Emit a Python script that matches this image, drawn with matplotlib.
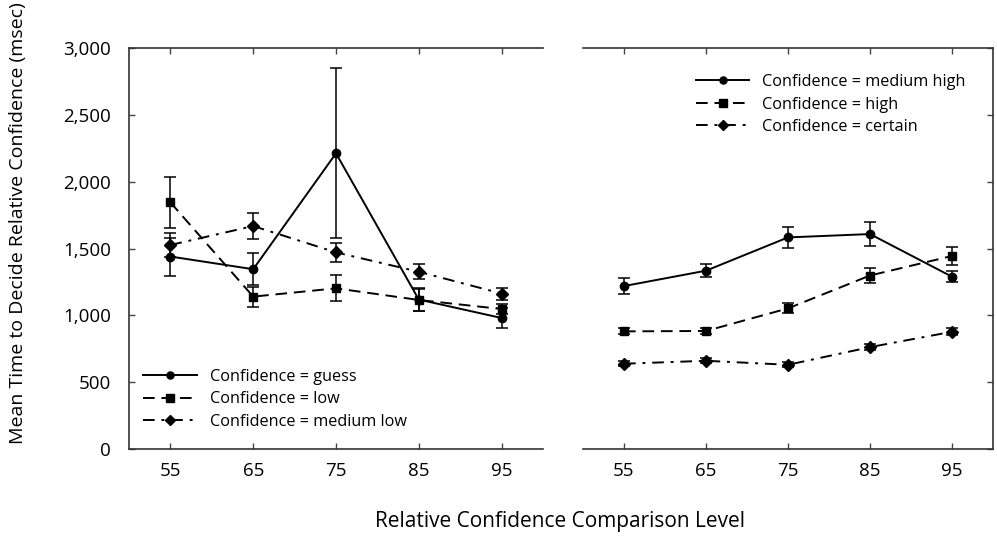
import numpy as np
import matplotlib
matplotlib.use('Agg')
import matplotlib.pyplot as plt
from matplotlib.ticker import FuncFormatter

#________________Data___________________
levels = [55, 65, 75, 85, 95]

# painel esquerdo
guess = [1440, 1345, 2212, 1118, 980]
guess_err = [142, 120, 635, 85, 72]
low = [1845, 1140, 1202, 1115, 1047]
low_err = [193, 75, 98, 80, 35]
med_low = [1526, 1668, 1471, 1326, 1163]
med_low_err = [87, 97, 73, 56, 45]

# painel direito
med_high = [1219, 1334, 1583, 1608, 1289]
med_high_err = [58, 50, 78, 88, 40]
high = [880, 883, 1052, 1298, 1444]
high_err = [22, 20, 38, 58, 68]
certain = [638, 660, 630, 762, 877]
certain_err = [18, 18, 18, 25, 25]

labels_left = ['Confidence = guess', 'Confidence = low', 'Confidence = medium low']
labels_right = ['Confidence = medium high', 'Confidence = high', 'Confidence = certain']
yticks = [0, 500, 1000, 1500, 2000, 2500, 3000]

plt.rcParams['font.family'] = ['Open Sans', 'DejaVu Sans']

fig = plt.figure(figsize=(9.97, 5.37), dpi=100)
ax1 = fig.add_axes([129 / 997, 1 - 449 / 537, 414 / 997, 401 / 537])
ax2 = fig.add_axes([583 / 997, 1 - 449 / 537, 410 / 997, 401 / 537])

estilo = dict(color='black', lw=1.4, capsize=4, elinewidth=1.1, capthick=1.1, ms=6)


def desenha(ax, dados):
    linhas = []
    for y, err, ls, mk in dados:
        eb = ax.errorbar(levels, y, yerr=err, marker=mk, **estilo)
        line = eb.lines[0]
        if ls == 'dashed':
            line.set_dashes((6, 3.5))
        elif ls == 'dashdot':
            line.set_dashes((6, 3.5, 1.5, 3.5))
        else:
            line.set_linestyle('-')
        linhas.append(line)
    ax.set_xlim(50, 100)
    ax.set_ylim(0, 3000)
    ax.set_xticks(levels)
    ax.set_yticks(yticks)
    ax.tick_params(direction='in', length=4, width=1, labelsize=13.5, color='#444444')
    for s in ax.spines.values():
        s.set_linewidth(1.2)
        s.set_color('#333333')
    return linhas


l1 = desenha(ax1, [(guess, guess_err, 'solid', 'o'),
                   (low, low_err, 'dashed', 's'),
                   (med_low, med_low_err, 'dashdot', 'D')])
l2 = desenha(ax2, [(med_high, med_high_err, 'solid', 'o'),
                   (high, high_err, 'dashed', 's'),
                   (certain, certain_err, 'dashdot', 'D')])

# eixo esquerdo
ax1.spines['right'].set_visible(False)
ax1.tick_params(top=True, right=False)
ax1.yaxis.set_major_formatter(FuncFormatter(lambda v, p: f'{int(v):,}'))
ax1.tick_params(axis='x', pad=9)
ax1.tick_params(axis='y', pad=13)

# eixo direito
ax2.spines['left'].set_visible(False)
ax2.tick_params(top=True, left=False, right=True, labelleft=False)
ax2.tick_params(axis='x', pad=9)

leg_kw = dict(frameon=False, fontsize=11.7, numpoints=1, handlelength=3.3,
              handletextpad=0.8, labelspacing=0.4, borderpad=0, borderaxespad=0,
              loc='upper left', markerscale=0.85)
ax1.legend(l1, labels_left, bbox_to_anchor=(0.035, 0.2), **leg_kw)
ax2.legend(l2, labels_right, bbox_to_anchor=(0.275, 0.935), **leg_kw)

fig.text(0.018, 1 - 223 / 537, 'Mean Time to Decide Relative Confidence (msec)',
         rotation=90, ha='center', va='center', fontsize=14)
fig.text(560 / 997, 1 - 522 / 537, 'Relative Confidence Comparison Level',
         ha='center', va='center', fontsize=15)

fig.savefig('out.png', dpi=100)
